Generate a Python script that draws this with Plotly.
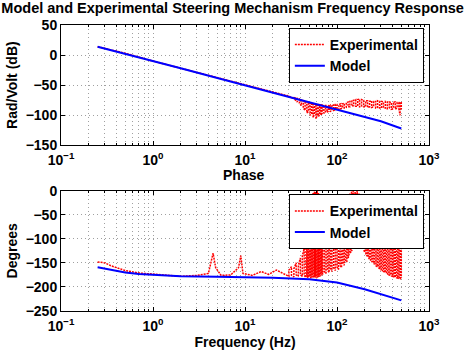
import plotly.graph_objects as go
from plotly.subplots import make_subplots

# ---------------- data ----------------
model_freq = [0.25, 0.35, 0.5, 0.7, 1, 2, 5, 10, 20, 50, 100, 200, 300, 500]
model_mag = [14, 8, 2, -4, -10, -22, -38, -50, -62, -78, -90, -103, -110, -122]
model_phase = [-159, -165, -170, -173, -175, -178, -179, -180, -181, -184, -191, -205, -215, -228]

# experimental magnitude: smooth low-frequency part
exp_mag_freq_lowf = [0.25, 0.3, 0.5, 1, 2, 3, 5, 10, 20, 30]
exp_mag_lowf = [14, 11, 3, -10, -22, -29, -38, -50, -62, -68]
# experimental magnitude: noisy part (low / high envelope of the scatter)
exp_mag_freq_n = [33, 35, 37, 39, 41, 43, 45, 47, 49, 51,
                  53, 55, 57, 59, 61, 63, 65, 67, 69, 72,
                  75, 78, 81, 84, 88, 92, 96, 100, 105, 110,
                  115, 120, 126, 132, 138, 145, 152, 160, 168, 176,
                  185, 195, 205, 215, 226, 238, 250, 263, 276, 290,
                  305, 320, 336, 353, 371, 390, 410, 430, 450, 470,
                  485, 500]
exp_mag_lo = [-72, -74, -78, -80, -84, -88, -92, -96, -94, -100,
              -98, -104, -97, -106, -100, -102, -98, -100, -96, -97,
              -94, -95, -93, -94, -92, -92, -91, -90, -90, -89,
              -88, -88, -87, -86, -86, -85, -84, -85, -85, -86,
              -85, -86, -86, -87, -86, -87, -86, -88, -87, -88,
              -88, -87, -88, -89, -88, -90, -89, -90, -88, -89,
              -100, -90]
exp_mag_hi = [-70, -71, -72, -73, -74, -76, -77, -78, -79, -80,
              -80, -81, -81, -82, -82, -82, -83, -83, -83, -84,
              -84, -84, -84, -83, -83, -83, -82, -82, -82, -81,
              -81, -80, -79, -78, -77, -76, -75, -74, -74, -73,
              -74, -75, -76, -76, -77, -76, -77, -77, -76, -77,
              -77, -78, -77, -78, -78, -79, -78, -78, -79, -79,
              -78, -79]

# experimental phase: low-frequency part
exp_ph_freq_lowf = [0.25, 0.3, 0.35, 0.4, 0.5, 0.7, 1, 1.5, 2, 3, 4, 4.5, 4.8, 5.5, 7, 8.5, 9, 9.5,
                    12, 15, 18, 22, 26]
exp_ph_lowf = [-148, -150, -156, -160, -166, -171, -174, -176, -178, -176, -172, -130, -160,
               -176, -175, -160, -135, -172, -176, -168, -174, -165, -172]
# experimental phase: noisy part (low / high envelope)
exp_ph_freq_n = [30, 32, 34, 36, 38, 40, 42, 44,
                 46, 47, 48, 49, 50, 51, 52, 53, 54, 55, 56, 57, 58, 59, 60, 61, 62, 63, 64,
                 65, 66, 67, 68, 69, 70,
                 73, 76, 79, 82, 85, 88, 92, 96, 100, 104, 108, 112, 116, 120, 124, 128,
                 132, 135, 138, 141, 144, 147, 150, 154, 158, 162, 166, 170, 175, 180, 185,
                 190, 195, 200,
                 206, 212, 218, 225, 232, 240, 248, 256, 265, 274, 283, 292, 302, 312, 322,
                 333, 344, 355, 367, 379, 391, 404, 417, 430, 444, 458, 472, 486, 500]
exp_ph_lo = [-178, -176, -179, -175, -178, -174, -178, -176,
             -180, -176, -181, -178, -180, -177, -182, -178, -180, -176, -181, -178, -180,
             -177, -182, -178, -180, -176, -179, -175, -178, -172, -176, -170, -174,
             -168, -172, -165, -170, -162, -168, -160, -166, -158, -164, -155, -160, -150,
             -155, -145, -148,
             -140, -135, -130, -128, -125, -122, -120, -118, -115, -112, -110, -112, -108,
             -110, -115, -118, -122, -128,
             -132, -136, -138, -142, -145, -148, -150, -153, -156, -158, -160, -163, -165,
             -167, -168, -170, -172, -173, -175, -176, -177, -178, -179, -180, -181, -182,
             -182, -183, -182]
exp_ph_hi = [-165, -158, -162, -150, -155, -140, -135, -120,
             -90, -60, -80, -40, -55, -20, -35, -10, -25, -5, -15, -2, -20, -3, -10, 0, -12,
             -5, -20, -8, -30, -15, -40, -25, -50,
             -90, -45, -100, -55, -110, -40, -95, -60, -120, -70, -45, -90, -35, -60, -25,
             -50,
             -10, -30, -5, -20, -2, -15, 0, -10, -2, -8, 0, -12, -5, -15, -8, -20, -15, -28,
             -25, -35, -30, -40, -38, -45, -48, -50, -55, -52, -60, -62, -65, -70, -68, -75,
             -72, -80, -78, -85, -82, -88, -86, -92, -90, -95, -92, -98, -100]

xtick_vals = [0.1, 1, 10, 100, 1000]
xtick_text = ["10<sup>−1</sup>", "10<sup>0</sup>", "10<sup>1</sup>", "10<sup>2</sup>", "10<sup>3</sup>"]


def zig(freqs, lo, hi):
    xs, ys = [], []
    for i, f in enumerate(freqs):
        xs += [f, f]
        ys += [lo[i], hi[i]] if i % 2 == 0 else [hi[i], lo[i]]
    return xs, ys


mx, my = zig(exp_mag_freq_n, exp_mag_lo, exp_mag_hi)
px, py = zig(exp_ph_freq_n, exp_ph_lo, exp_ph_hi)

RED = "#FF0000"
BLUE = "#0000FF"
GRID = "#a0a0a0"

fig = make_subplots(rows=2, cols=1, vertical_spacing=0.1586)

fig.add_trace(go.Scatter(x=exp_mag_freq_lowf + mx, y=exp_mag_lowf + my, mode="lines",
                         line=dict(color=RED, width=1.5, dash="2px,1px"), name="Experimental",
                         legend="legend"), row=1, col=1)
fig.add_trace(go.Scatter(x=model_freq, y=model_mag, mode="lines",
                         line=dict(color=BLUE, width=2), name="Model", legend="legend"),
              row=1, col=1)
fig.add_trace(go.Scatter(x=exp_ph_freq_lowf + px, y=exp_ph_lowf + py, mode="lines",
                         line=dict(color=RED, width=1.5, dash="2px,1px"), name="Experimental",
                         legend="legend2"), row=2, col=1)
fig.add_trace(go.Scatter(x=model_freq, y=model_phase, mode="lines",
                         line=dict(color=BLUE, width=2), name="Model", legend="legend2"),
              row=2, col=1)

axis_common = dict(showline=True, linecolor="black", linewidth=1, mirror="allticks",
                   ticks="inside", ticklen=4, tickcolor="black",
                   showgrid=True, gridcolor=GRID, griddash="1px,3px", gridwidth=1,
                   zeroline=False, tickfont=dict(size=14, color="black"))

for r in (1, 2):
    fig.update_xaxes(type="log", range=[-1, 3], tickvals=xtick_vals, ticktext=xtick_text,
                     ticklabelstandoff=2,
                     minor=dict(dtick="D1", showgrid=True, gridcolor=GRID, griddash="1px,3px",
                                ticks="inside", ticklen=2, tickcolor="black"),
                     **axis_common, row=r, col=1)

fig.update_yaxes(range=[-150, 50], dtick=50,
                 title=dict(text="Rad/Volt (dB)", font=dict(size=14), standoff=4),
                 **axis_common, row=1, col=1)
fig.update_yaxes(range=[-250, 0], dtick=50,
                 title=dict(text="Degrees", font=dict(size=14), standoff=4),
                 **axis_common, row=2, col=1)
fig.update_xaxes(title=dict(text="Frequency (Hz)", font=dict(size=14), standoff=0), row=2, col=1)

fig.add_annotation(text="Phase", xref="paper", yref="paper", x=0.496, y=0.476,
                   xanchor="center", yanchor="middle", showarrow=False,
                   font=dict(size=14, color="black"))

fig.update_layout(
    width=469, height=356,
    margin=dict(l=60, r=40, t=25, b=41),
    plot_bgcolor="white", paper_bgcolor="white",
    font=dict(family="Liberation Sans, Arial, sans-serif", weight="bold", color="black", size=14),
    title=dict(text="Model and Experimental Steering Mechanism Frequency Response",
               x=0.496, xanchor="center", y=0.978, yanchor="middle",
               font=dict(size=14.5, weight="bold")),
    legend=dict(x=0.986, y=0.99, xanchor="right", yanchor="top", bgcolor="white",
                bordercolor="black", borderwidth=1, font=dict(size=14),
                tracegroupgap=0, itemwidth=30),
    legend2=dict(x=0.986, y=0.408, xanchor="right", yanchor="top", bgcolor="white",
                 bordercolor="black", borderwidth=1, font=dict(size=14),
                 tracegroupgap=0, itemwidth=30),
)

fig.write_html("out.html")
